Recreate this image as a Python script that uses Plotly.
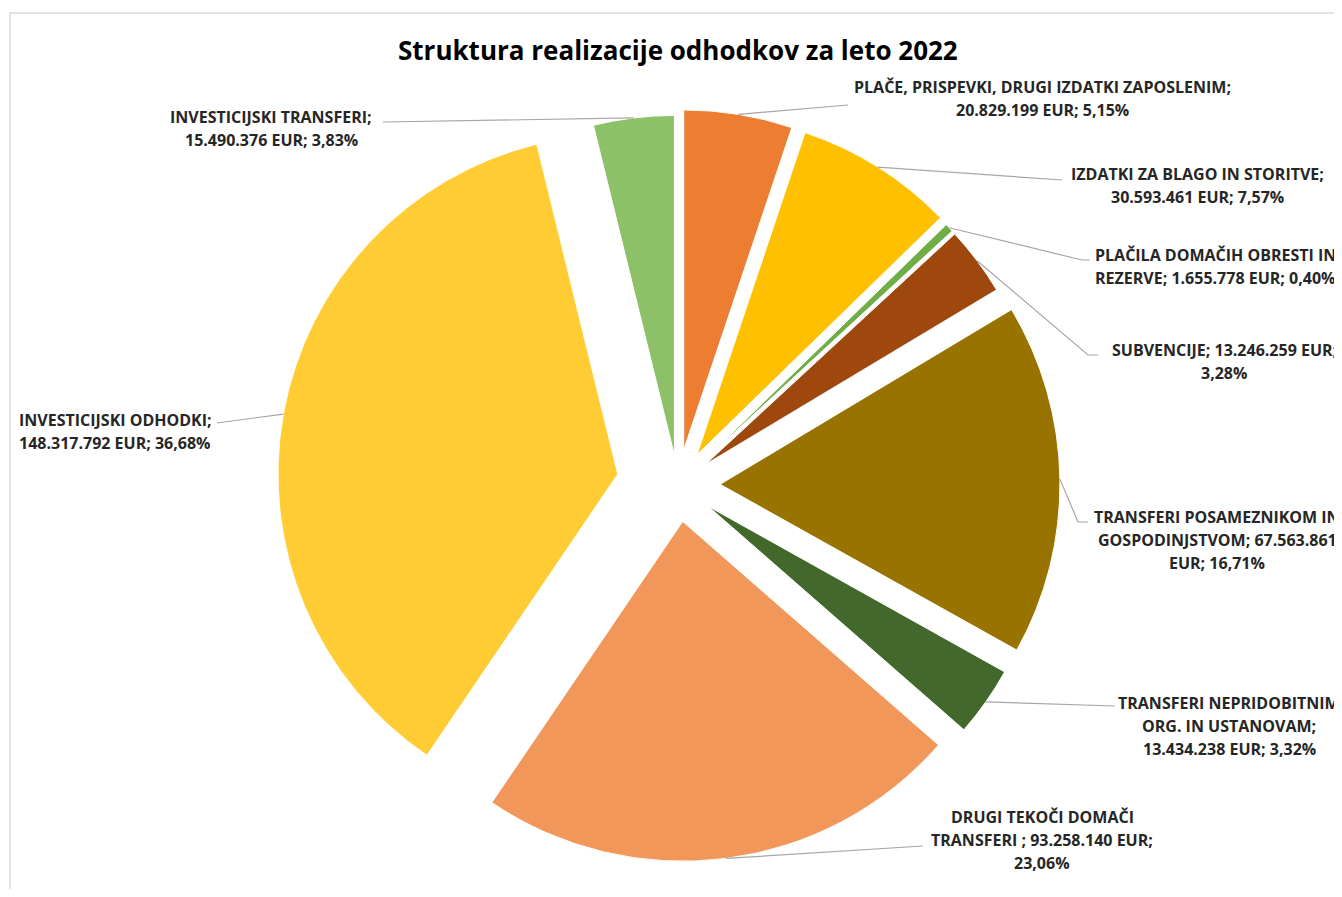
import math
import plotly.graph_objects as go

# figure size chosen so the page (with its 8px body margin) fits the 1342x897 window
W, H = 1334, 881
OFF = 8  # page body margin offset of the rendered figure

# ---------------- data ----------------
categories = [
    "PLAČE, PRISPEVKI, DRUGI IZDATKI ZAPOSLENIM",
    "IZDATKI ZA BLAGO IN STORITVE",
    "PLAČILA DOMAČIH OBRESTI IN REZERVE",
    "SUBVENCIJE",
    "TRANSFERI POSAMEZNIKOM IN GOSPODINJSTVOM",
    "TRANSFERI NEPRIDOBITNIM ORG. IN USTANOVAM",
    "DRUGI TEKOČI DOMAČI TRANSFERI ",
    "INVESTICIJSKI ODHODKI",
    "INVESTICIJSKI TRANSFERI",
]
values_eur = [20829199, 30593461, 1655778, 13246259, 67563861,
              13434238, 93258140, 148317792, 15490376]
percent_labels = ["5,15%", "7,57%", "0,40%", "3,28%", "16,71%",
                  "3,32%", "23,06%", "36,68%", "3,83%"]

label_lines = [
    ["PLAČE, PRISPEVKI, DRUGI IZDATKI ZAPOSLENIM;", "20.829.199 EUR; 5,15%"],
    ["IZDATKI ZA BLAGO IN STORITVE;", "30.593.461 EUR; 7,57%"],
    ["PLAČILA DOMAČIH OBRESTI IN", "REZERVE; 1.655.778 EUR; 0,40%"],
    ["SUBVENCIJE; 13.246.259 EUR;", "3,28%"],
    ["TRANSFERI POSAMEZNIKOM IN", "GOSPODINJSTVOM; 67.563.861", "EUR; 16,71%"],
    ["TRANSFERI NEPRIDOBITNIM", "ORG. IN USTANOVAM;", "13.434.238 EUR; 3,32%"],
    ["DRUGI TEKOČI DOMAČI", "TRANSFERI ; 93.258.140 EUR;", "23,06%"],
    ["INVESTICIJSKI ODHODKI;", "148.317.792 EUR; 36,68%"],
    ["INVESTICIJSKI TRANSFERI;", "15.490.376 EUR; 3,83%"],
]

# ---------------- styles / layout ----------------
colors = ["#ED7D31", "#FFC000", "#70AD47", "#9E480E", "#997300",
          "#43682B", "#F1975A", "#FFCD33", "#8CC168"]
pulls = [0.105, 0.105, 0.1, 0.1, 0.124, 0.108, 0.108, 0.18, 0.088]

# label placement (screen pixel): centre x, first-line y
label_pos = [(1042, 87), (1197, 174), (1215, 255), (1224, 350), (1217, 517),
             (1229, 703), (1042, 817), (115, 420), (271, 117)]
# leader line elbow / end points (screen pixel)
leader_pts = [
    [(848, 105)],
    [(1062, 180)],
    [(1082, 260), (1090, 260)],
    [(1088, 355), (1098, 355)],
    [(1078, 522), (1088, 522)],
    [(1115, 706)],
    [(923, 846)],
    [(217, 423)],
    [(383, 122)],
]

# pie centre / size in screen pixels
PIE_CX, PIE_CY, PIE_BOX = 678, 485, 802

dom_x = [(PIE_CX - OFF - PIE_BOX / 2) / W, (PIE_CX - OFF + PIE_BOX / 2) / W]
dom_y = [max(0.0, 1 - (PIE_CY - OFF + PIE_BOX / 2) / H),
         min(1.0, 1 - (PIE_CY - OFF - PIE_BOX / 2) / H)]

FONT = "Open Sans"
LINE_H = 23

fig = go.Figure(go.Pie(
    labels=categories,
    values=values_eur,
    sort=False,
    direction="clockwise",
    rotation=0,
    pull=pulls,
    marker=dict(colors=colors, line=dict(color="white", width=1)),
    textinfo="none",
    hoverinfo="label+value+percent",
    showlegend=False,
    domain=dict(x=dom_x, y=dom_y),
))

# pie geometry (figure pixels, as plotly computes it)
max_pull = max(pulls)
box_w = W * (dom_x[1] - dom_x[0])
box_h = H * (dom_y[1] - dom_y[0])
r = min(box_w, box_h) / (2 + 2 * max_pull)
cx = W * (dom_x[0] + dom_x[1]) / 2
cy = H * (1 - dom_y[0]) - box_h / 2


def fig_px(x, y):
    return x / W, 1 - y / H


def scr(x, y):
    return fig_px(x - OFF, y - OFF)


total = sum(values_eur)
cum = 0
shapes = []
annotations = []
for i, v in enumerate(values_eur):
    mid = (cum + v / 2) / total * 2 * math.pi
    cum += v
    ux, uy = math.sin(mid), -math.cos(mid)
    sx = cx + (1 + pulls[i]) * r * ux
    sy = cy + (1 + pulls[i]) * r * uy
    pts = [fig_px(sx, sy)] + [scr(x, y) for x, y in leader_pts[i]]
    path = ""
    for k, (X, Y) in enumerate(pts):
        path += ("M" if k == 0 else " L") + f" {X:.5f},{Y:.5f}"
    shapes.append(dict(type="path", xref="paper", yref="paper", path=path,
                       line=dict(color="#A6A6A6", width=1.2)))
    lx, ly = label_pos[i]
    for j, t in enumerate(label_lines[i]):
        X, Y = scr(lx, ly + j * LINE_H)
        annotations.append(dict(
            x=X, y=Y, xref="paper", yref="paper", text=t, showarrow=False,
            xanchor="center", yanchor="middle",
            font=dict(family=FONT, size=16, color="#262626", weight="bold"),
        ))

# title
tx, ty = scr(678, 50)
annotations.append(dict(
    x=tx, y=ty, xref="paper", yref="paper",
    text="Struktura realizacije odhodkov za leto 2022", showarrow=False,
    xanchor="center", yanchor="middle",
    font=dict(family=FONT, size=26, color="#000000", weight="bold"),
))

# chart frame (left and top edges visible)
fx0, fy0 = scr(10, 13)
fx1, fy1 = scr(1360, 920)
shapes.append(dict(type="rect", xref="paper", yref="paper",
                   x0=fx0, y0=fy1, x1=fx1, y1=fy0,
                   line=dict(color="#D9D9D9", width=1.5), layer="below"))

fig.update_layout(
    width=W, height=H,
    margin=dict(l=0, r=0, t=0, b=0),
    paper_bgcolor="white",
    plot_bgcolor="white",
    shapes=shapes,
    annotations=annotations,
)

fig.write_html("out.html")
